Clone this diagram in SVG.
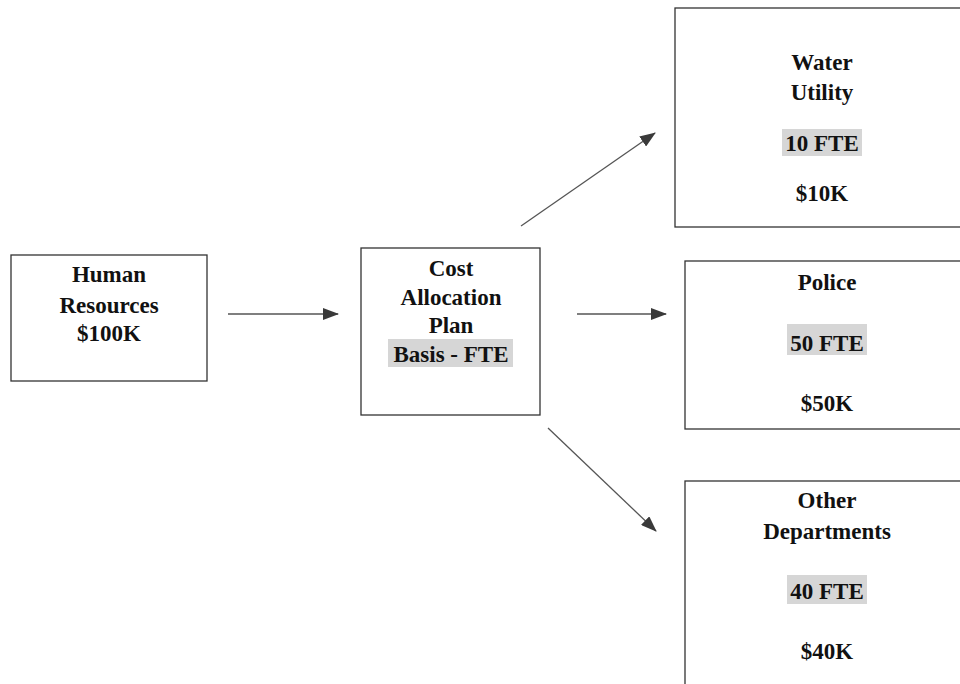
<svg xmlns="http://www.w3.org/2000/svg" width="960" height="684" viewBox="0 0 960 684">
<defs>
<marker id="ah" markerWidth="16" markerHeight="12" refX="15" refY="6" orient="auto" markerUnits="userSpaceOnUse">
<path d="M0,0 L16,6 L0,12 Z" fill="#3a3a3a"/>
</marker>
<style>
.box{fill:#fff;stroke:#333;stroke-width:1.3}
.t{font-family:"Liberation Serif","Times New Roman",serif;font-weight:bold;font-size:23px;fill:#111;text-anchor:middle}
.hl{fill:#d6d6d6}
.c{stroke:#555;stroke-width:1.3;fill:none;marker-end:url(#ah)}
</style>
</defs>
<rect width="960" height="684" fill="#fff"/>
<g id="connectors">
<line class="c" x1="228" y1="314" x2="338" y2="314"/>
<line class="c" x1="521" y1="226" x2="655" y2="133"/>
<line class="c" x1="577" y1="314" x2="666" y2="314"/>
<line class="c" x1="548" y1="428" x2="656" y2="531"/>
</g>
<g id="human-resources">
<rect class="box" x="11" y="255" width="196" height="126"/>
<text class="t" x="109" y="282">Human</text>
<text class="t" x="109" y="313">Resources</text>
<text class="t" x="109" y="341">$100K</text>
</g>
<g id="cost-allocation-plan">
<rect class="box" x="361" y="248" width="179" height="167"/>
<rect class="hl" x="388" y="339" width="125" height="28"/>
<text class="t" x="451" y="276">Cost</text>
<text class="t" x="451" y="305">Allocation</text>
<text class="t" x="451" y="333">Plan</text>
<text class="t" x="451" y="362">Basis - FTE</text>
</g>
<g id="water-utility">
<rect class="box" x="675" y="8" width="300" height="219"/>
<rect class="hl" x="782" y="129" width="80" height="27"/>
<text class="t" x="822" y="70">Water</text>
<text class="t" x="822" y="100">Utility</text>
<text class="t" x="822" y="151">10 FTE</text>
<text class="t" x="822" y="201">$10K</text>
</g>
<g id="police">
<rect class="box" x="685" y="261" width="290" height="168"/>
<rect class="hl" x="787" y="324" width="80" height="31"/>
<text class="t" x="827" y="290">Police</text>
<text class="t" x="827" y="351">50 FTE</text>
<text class="t" x="827" y="411">$50K</text>
</g>
<g id="other-departments">
<rect class="box" x="685" y="481" width="290" height="220"/>
<rect class="hl" x="787" y="575" width="80" height="29"/>
<text class="t" x="827" y="508">Other</text>
<text class="t" x="827" y="539">Departments</text>
<text class="t" x="827" y="599">40 FTE</text>
<text class="t" x="827" y="659">$40K</text>
</g>
</svg>
